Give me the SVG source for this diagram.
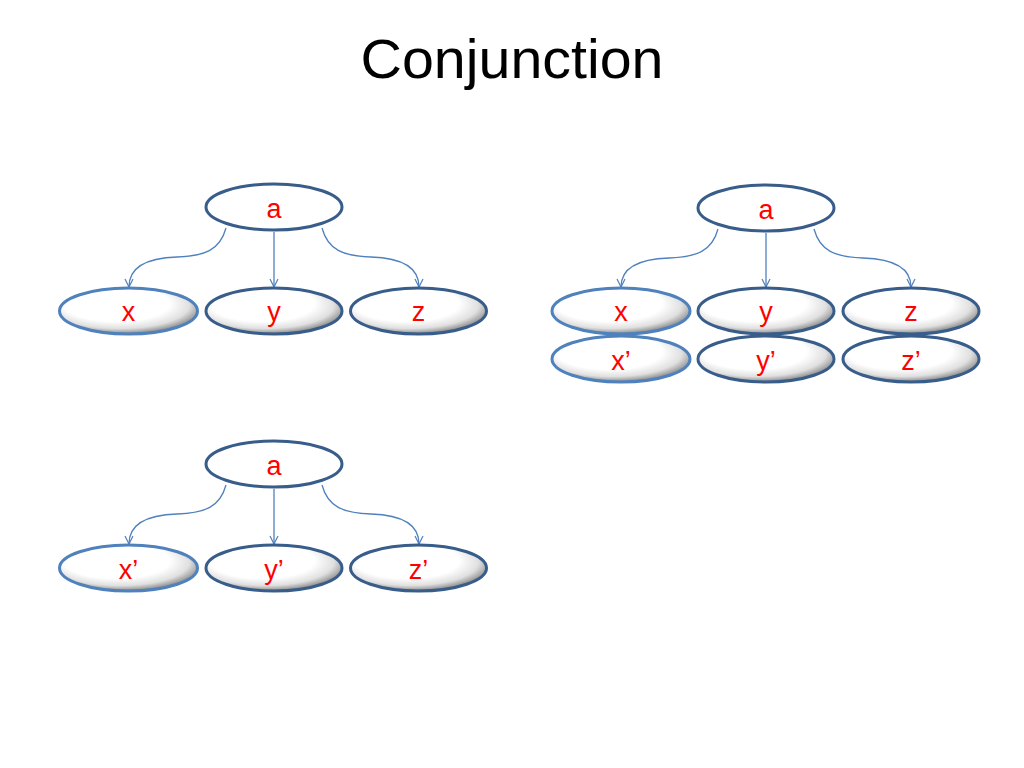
<svg xmlns="http://www.w3.org/2000/svg" width="1024" height="768" viewBox="0 0 1024 768">
<style>
.title{font-family:"Liberation Sans",Arial,sans-serif;font-size:55px;fill:#000}
.lbl{font-family:"Liberation Sans",Arial,sans-serif;font-size:27px;fill:#FF0000;text-anchor:middle}
.top{fill:#fff;stroke:#385D8A;stroke-width:3}
.nl{fill:url(#sh);stroke:#4F81BD;stroke-width:3}
.nd{fill:url(#sh);stroke:#385D8A;stroke-width:3}
.con{fill:none;stroke:#4F81BD;stroke-width:1.3;marker-end:url(#ah)}
</style>
<defs>
<radialGradient id="sh" cx="0.45" cy="0.4" r="0.62" fx="0.35" fy="0.25">
<stop offset="0" stop-color="#ffffff"/>
<stop offset="0.62" stop-color="#ffffff"/>
<stop offset="0.82" stop-color="#e0e0e0"/>
<stop offset="1" stop-color="#7a7a7a"/>
</radialGradient>
<marker id="ah" viewBox="0 0 10 10" refX="9" refY="5" markerWidth="10" markerHeight="10" markerUnits="userSpaceOnUse" orient="auto">
<path d="M1,1 L9,5 L1,9" fill="none" stroke="#4F81BD" stroke-width="1.2"/>
</marker>
</defs>
<rect width="1024" height="768" fill="#fff"/>
<text class="title" x="512" y="78" text-anchor="middle" textLength="303" lengthAdjust="spacingAndGlyphs">Conjunction</text>

<g id="connectors">
<path class="con" d="M226,228 C220,250 205,256 177,257 C145,258 129,268 129,287"/>
<path class="con" d="M274,232 L274,287"/>
<path class="con" d="M322,228 C328,250 343,256 371,257 C403,258 419,268 419,287"/>
<g transform="translate(492,1)">
<path class="con" d="M226,228 C220,250 205,256 177,257 C145,258 129,268 129,286"/>
<path class="con" d="M274,232 L274,286"/>
<path class="con" d="M322,228 C328,250 343,256 371,257 C403,258 419,268 419,286"/>
</g>
<g transform="translate(0,257)">
<path class="con" d="M226,228 C220,250 205,256 177,257 C145,258 129,268 129,287"/>
<path class="con" d="M274,232 L274,287"/>
<path class="con" d="M322,228 C328,250 343,256 371,257 C403,258 419,268 419,287"/>
</g>
</g>

<g id="a1"><ellipse class="top" cx="274" cy="207" rx="68" ry="23"/><text class="lbl" x="274" y="218">a</text></g>
<g id="x1"><ellipse class="nl" cx="128.5" cy="311" rx="69" ry="23"/><text class="lbl" x="128.5" y="321">x</text></g>
<g id="y1"><ellipse class="nd" cx="274" cy="311" rx="68" ry="23"/><text class="lbl" x="274" y="321">y</text></g>
<g id="z1"><ellipse class="nd" cx="418.5" cy="311" rx="68" ry="23"/><text class="lbl" x="418.5" y="321">z</text></g>

<g id="a2"><ellipse class="top" cx="766" cy="208" rx="68" ry="23"/><text class="lbl" x="766" y="219">a</text></g>
<g id="x2"><ellipse class="nl" cx="621" cy="311" rx="69" ry="23"/><text class="lbl" x="621" y="321">x</text></g>
<g id="y2"><ellipse class="nd" cx="766" cy="311" rx="68" ry="23"/><text class="lbl" x="766" y="321">y</text></g>
<g id="z2"><ellipse class="nd" cx="911" cy="311" rx="68" ry="23"/><text class="lbl" x="911" y="321">z</text></g>
<g id="xp2"><ellipse class="nl" cx="621" cy="359" rx="69" ry="23"/><text class="lbl" x="621" y="370">x’</text></g>
<g id="yp2"><ellipse class="nd" cx="766" cy="359" rx="68" ry="23"/><text class="lbl" x="766" y="370">y’</text></g>
<g id="zp2"><ellipse class="nd" cx="911" cy="359" rx="68" ry="23"/><text class="lbl" x="911" y="370">z’</text></g>

<g id="a3"><ellipse class="top" cx="274" cy="464" rx="68" ry="23"/><text class="lbl" x="274" y="475">a</text></g>
<g id="xp3"><ellipse class="nl" cx="128.5" cy="568" rx="69" ry="23"/><text class="lbl" x="128.5" y="579">x’</text></g>
<g id="yp3"><ellipse class="nd" cx="274" cy="568" rx="68" ry="23"/><text class="lbl" x="274" y="579">y’</text></g>
<g id="zp3"><ellipse class="nd" cx="418.5" cy="568" rx="68" ry="23"/><text class="lbl" x="418.5" y="579">z’</text></g>
</svg>
